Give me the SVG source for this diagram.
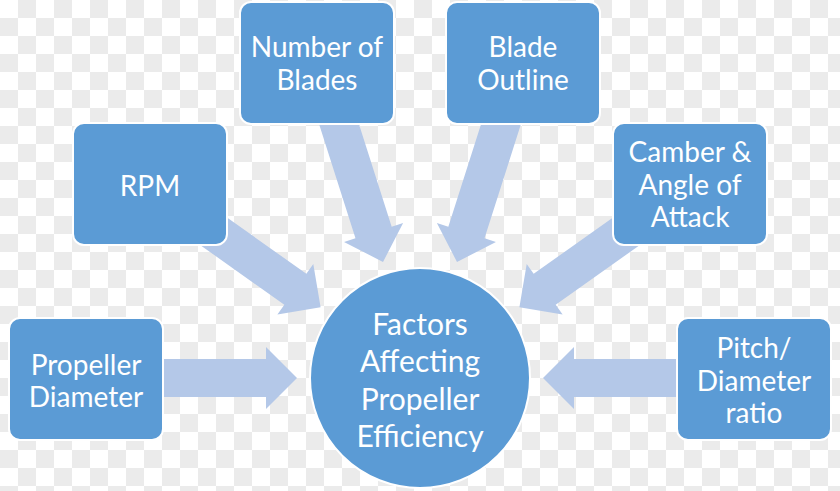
<svg xmlns="http://www.w3.org/2000/svg" width="840" height="491" viewBox="0 0 840 491">
<defs>
<pattern id="chk" x="0" y="0" width="36" height="36" patternUnits="userSpaceOnUse">
<rect width="36" height="36" fill="#ffffff"/>
<rect x="18" y="0" width="18" height="18" fill="#ebebeb"/>
<rect x="0" y="18" width="18" height="18" fill="#ebebeb"/>
</pattern>
</defs>
<style>
.box{fill:#5b9bd5;stroke:#ffffff;stroke-width:2}
.arr{fill:#b4c8e8}
.t{font-family:Lato,"Open Sans","Liberation Sans",sans-serif;font-size:28px;fill:#ffffff;text-anchor:middle}
.c{font-size:30px}
</style>
<rect width="840" height="491" fill="url(#chk)"/>
<g id="connectors">
<polygon class="arr" transform="translate(297,378)" points="-147,-19 -31,-19 -31,-31 0,0 -31,31 -31,19 -147,19"/>
<polygon class="arr" transform="translate(543,378) rotate(180)" points="-150,-19 -31,-19 -31,-31 0,0 -31,31 -31,19 -150,19"/>
<polygon class="arr" transform="translate(320.6,307.3) rotate(35.4)" points="-150,-19 -31,-19 -31,-31 0,0 -31,31 -31,19 -150,19"/>
<polygon class="arr" transform="translate(519.4,307.3) rotate(144.6)" points="-150,-19 -31,-19 -31,-31 0,0 -31,31 -31,19 -150,19"/>
<polygon class="arr" transform="translate(383,262) rotate(72.3)" points="-160,-19 -31,-19 -31,-31 0,0 -31,31 -31,19 -160,19"/>
<polygon class="arr" transform="translate(457,262) rotate(107.7)" points="-160,-19 -31,-19 -31,-31 0,0 -31,31 -31,19 -160,19"/>
</g>
<g id="blades">
<rect class="box" x="240" y="2" width="154" height="122" rx="11"/>
<text class="t" x="317" y="57">Number of</text>
<text class="t" x="317" y="90">Blades</text>
</g>
<g id="outline">
<rect class="box" x="446" y="2" width="154" height="122" rx="11"/>
<text class="t" x="523" y="57">Blade</text>
<text class="t" x="523" y="90">Outline</text>
</g>
<g id="rpm">
<rect class="box" x="73" y="123" width="154" height="122" rx="11"/>
<text class="t" x="150" y="196">RPM</text>
</g>
<g id="camber">
<rect class="box" x="613" y="123" width="154" height="122" rx="11"/>
<text class="t" x="690" y="162">Camber &amp;</text>
<text class="t" x="690" y="195">Angle of</text>
<text class="t" x="690" y="227">Attack</text>
</g>
<g id="diameter">
<rect class="box" x="9" y="318" width="154" height="122" rx="11"/>
<text class="t" x="86" y="375">Propeller</text>
<text class="t" x="86" y="407">Diameter</text>
</g>
<g id="pitch">
<rect class="box" x="677" y="318" width="154" height="122" rx="11"/>
<text class="t" x="754" y="358">Pitch/</text>
<text class="t" x="754" y="391">Diameter</text>
<text class="t" x="754" y="423">ratio</text>
</g>
<g id="center">
<circle class="box" cx="420" cy="378" r="110"/>
<text class="t c" x="420" y="335">Factors</text>
<text class="t c" x="420" y="372">Affecting</text>
<text class="t c" x="420" y="410">Propeller</text>
<text class="t c" x="420" y="447">Efficiency</text>
</g>
</svg>
